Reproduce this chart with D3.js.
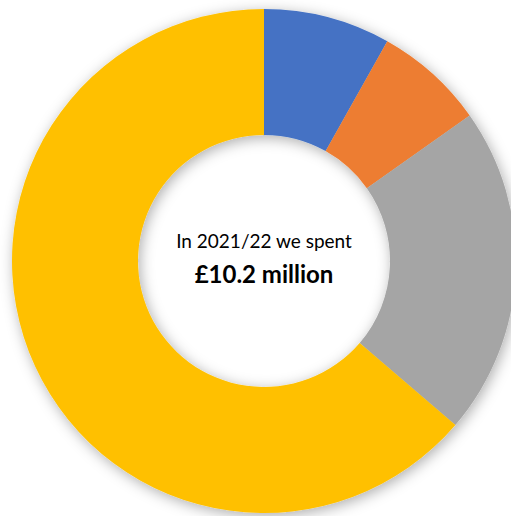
<!DOCTYPE html>
<html>
<head>
<meta charset="utf-8">
<script src="https://cdn.jsdelivr.net/npm/d3@7"></script>
<style>
  html, body { margin: 0; padding: 0; background: #ffffff; }
  svg { display: block; }
</style>
</head>
<body>
<svg id="chart" width="511" height="516"></svg>
<script>
// Spending breakdown, 2021/22 (£ million)
const categories = ["Category A", "Category B", "Category C", "Category D"];
const spend = [0.83, 0.72, 2.15, 6.50];
const colours = ["#4472C4", "#ED7D31", "#A5A5A5", "#FFC000"];
const titleLine = "In 2021/22 we spent";
const totalLine = "£10.2 million";

const svg = d3.select("#chart");
const cx = 264, cy = 261;
const outerR = 252, innerR = 126;

const defs = svg.append("defs");
const shadow = defs.append("filter")
  .attr("id", "soft-shadow")
  .attr("x", "-20%").attr("y", "-20%")
  .attr("width", "140%").attr("height", "140%");
shadow.append("feDropShadow")
  .attr("dx", 2).attr("dy", 3)
  .attr("stdDeviation", 7)
  .attr("flood-color", "#000")
  .attr("flood-opacity", 0.32);

const colour = d3.scaleOrdinal().domain(categories).range(colours);

const pie = d3.pie()
  .value((d, i) => spend[i])
  .sort(null);

const arc = d3.arc().innerRadius(innerR).outerRadius(outerR);

const g = svg.append("g")
  .attr("transform", `translate(${cx},${cy})`)
  .attr("filter", "url(#soft-shadow)");

g.selectAll("path")
  .data(pie(categories))
  .join("path")
  .attr("d", arc)
  .attr("fill", d => colour(d.data));

const label = svg.append("g")
  .attr("transform", `translate(${cx},${cy})`)
  .attr("text-anchor", "middle")
  .attr("fill", "#000");

label.append("text")
  .attr("y", -13)
  .style("font-family", "Lato, 'Open Sans', sans-serif")
  .style("font-size", "19px")
  .text(titleLine);

label.append("text")
  .attr("y", 22)
  .style("font-family", "Lato, 'Open Sans', sans-serif")
  .style("font-weight", "bold")
  .style("font-size", "24px")
  .text(totalLine);
</script>
</body>
</html>
